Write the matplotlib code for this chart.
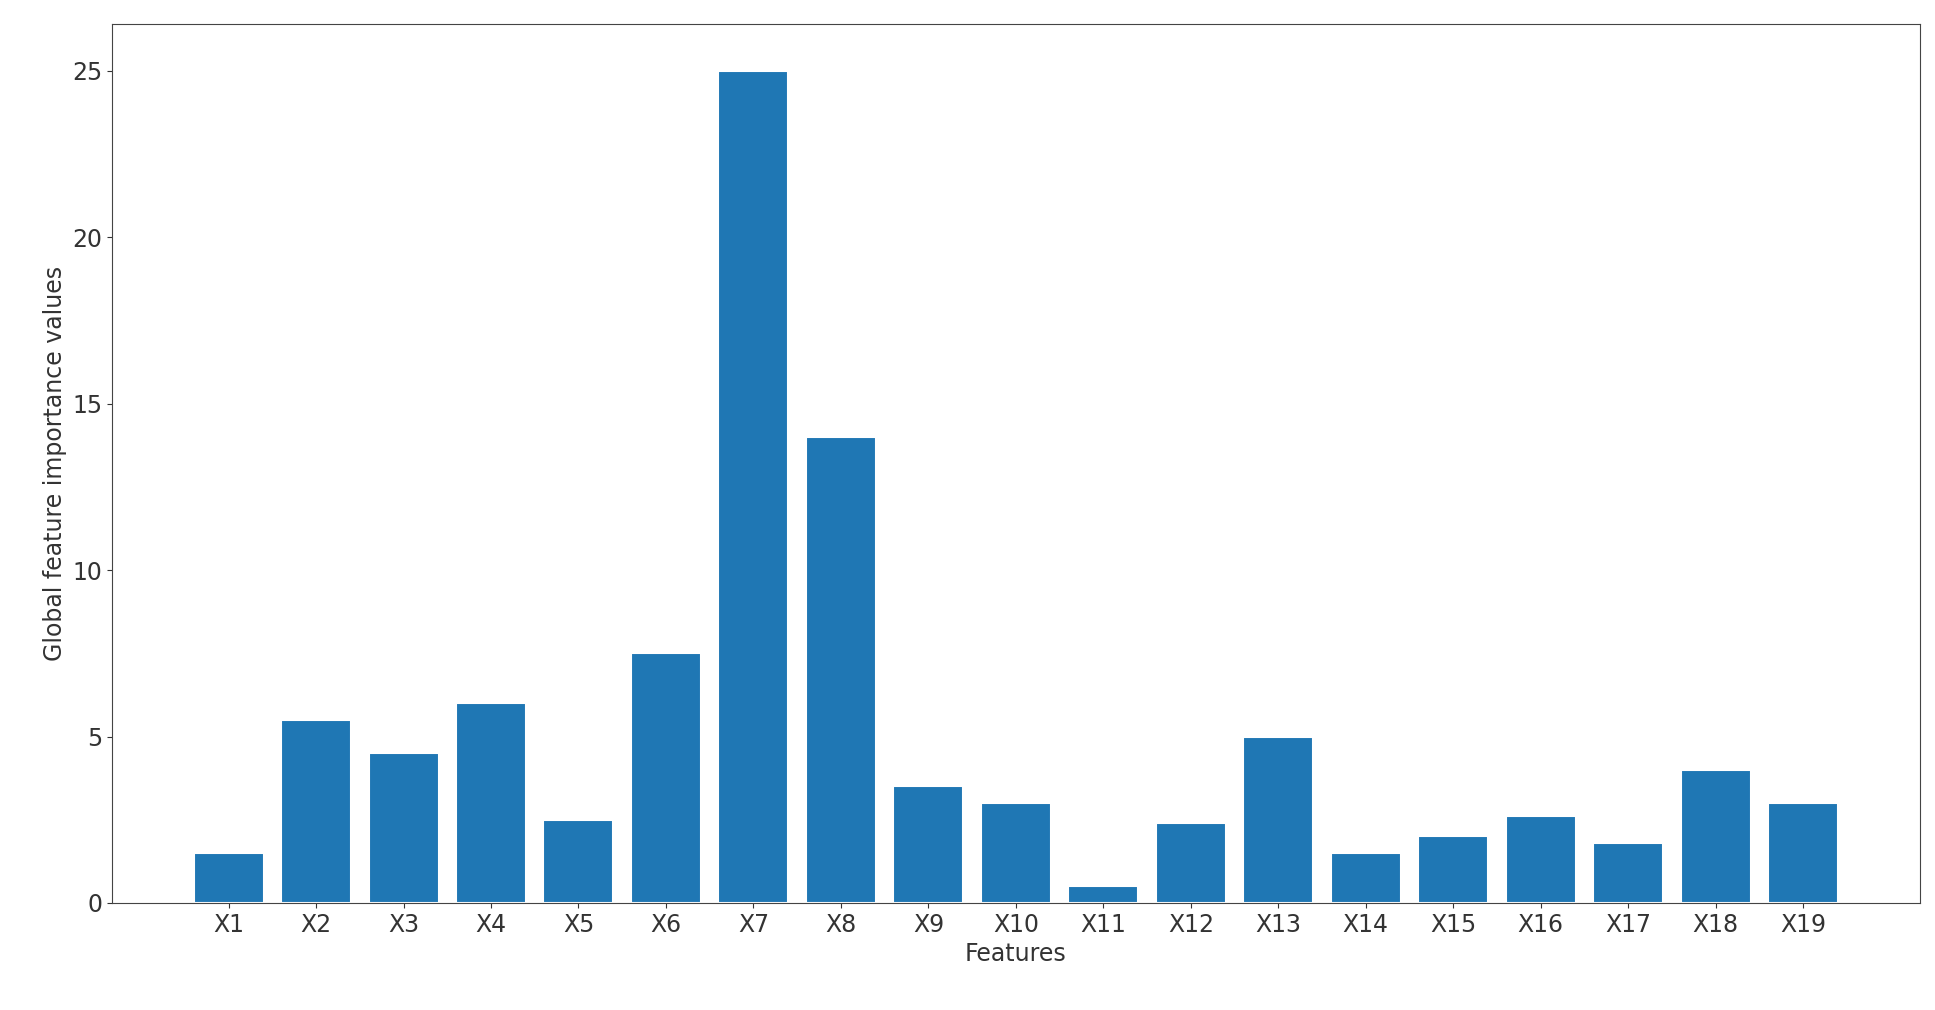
import matplotlib
matplotlib.use('Agg')
import matplotlib.pyplot as plt

features = ['X%d' % i for i in range(1, 20)]
importance = [1.5, 5.5, 4.5, 6.0, 2.5, 7.5, 25.0, 14.0, 3.5, 3.0,
              0.5, 2.4, 5.0, 1.5, 2.0, 2.6, 1.8, 4.0, 3.0]

fig = plt.figure(figsize=(19.35, 10.1), dpi=100)
ax = fig.add_axes([0.058, 0.106, 0.934, 0.87])
ax.bar(features, importance, color='#1f77b4', edgecolor='white', linewidth=1.5)
ax.set_xlim(-1.33, len(features) - 1 + 1.33)
ax.set_ylim(0, 26.4)
ax.set_xlabel('Features', fontsize=17, color='#333333')
ax.set_ylabel('Global feature importance values', fontsize=17, color='#333333')
ax.tick_params(labelsize=17, colors='#333333')
for s in ax.spines.values():
    s.set_color('#444444')

fig.savefig('out.png', dpi=100)
